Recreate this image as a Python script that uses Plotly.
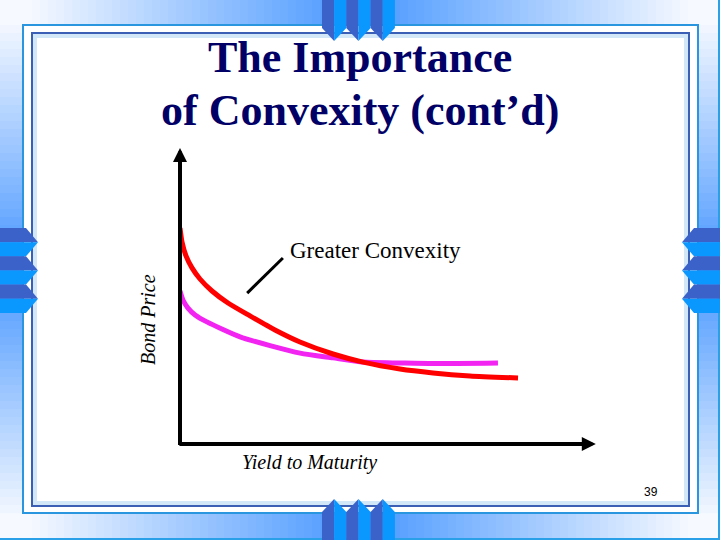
import plotly.graph_objects as go

# ---- data (yield to maturity vs bond price) ----
yield_high_convexity = [0, 0.048, 0.143, 0.286, 0.476, 0.762, 1.143, 1.667, 2.262, 2.857, 3.643, 4.357, 5.238, 6.024, 6.905, 8.048]
price_high_convexity = [72, 67.3, 62.7, 58.7, 55, 51, 47, 42.7, 38, 34, 30, 27.3, 25, 23.7, 22.7, 22]
yield_low_convexity = [0, 0.07, 0.19, 0.36, 0.64, 1.43, 2.86, 3.64, 4.36, 5.24, 6.02, 7.57]
price_low_convexity = [51, 48, 45.3, 43, 40.7, 35.7, 30.3, 28.7, 27.3, 27, 26.8, 27]

title_lines = ["The Importance", "of Convexity (cont\u2019d)"]
x_label = "Yield to Maturity"
y_label = "Bond Price"
callout = "Greater Convexity"
page_no = "39"

W, H = 720, 540
def px(x):
    return x / W
def py(y):
    return 1 - y / H

fig = go.Figure()
fig.add_trace(go.Scatter(x=yield_low_convexity, y=price_low_convexity, mode="lines",
                         line=dict(color="#f224f2", width=5, shape="spline", smoothing=0.6),
                         showlegend=False, hoverinfo="skip"))
fig.add_trace(go.Scatter(x=yield_high_convexity, y=price_high_convexity, mode="lines",
                         line=dict(color="#ff0000", width=5, shape="spline", smoothing=0.6),
                         showlegend=False, hoverinfo="skip"))

shapes = []
BLUE = (70, 150, 255)
PALE = (246, 249, 255)
def lerp(t):
    t = max(0.0, min(1.0, t))
    c = [round(BLUE[i] + (PALE[i] - BLUE[i]) * t) for i in range(3)]
    return "rgb(%d,%d,%d)" % tuple(c)

def rect(x0, y0, x1, y1, color, layer="below"):
    shapes.append(dict(type="rect", xref="paper", yref="paper", x0=px(x0), x1=px(x1),
                       y0=py(y1), y1=py(y0), fillcolor=color, line=dict(width=0), layer=layer))

step = 8
# top & bottom gradient bands
for x in range(0, W, step):
    c = lerp(abs(x + step / 2 - 360) / 330)
    rect(x, 0, x + step, 25, c)
    rect(x, 514, x + step, H, c)
# left & right gradient bands
for y in range(25, 514, step):
    c = lerp(abs(y + step / 2 - 270) / 250)
    rect(0, y, 22, min(y + step, 514), c)
    rect(698, y, W, min(y + step, 514), c)

def poly(points, color, layer="below"):
    path = "M " + " L ".join("%f,%f" % (px(a), py(b)) for a, b in points) + " Z"
    shapes.append(dict(type="path", xref="paper", yref="paper", path=path,
                       fillcolor=color, line=dict(width=0), layer=layer))

DARK = "#3a62c9"
BRIGHT = "#0a98ff"

# frame
shapes.append(dict(type="rect", xref="paper", yref="paper", x0=px(23), x1=px(698), y0=py(513), y1=py(25),
                   line=dict(color="#2a96e0", width=2), fillcolor="white", layer="below"))
shapes.append(dict(type="rect", xref="paper", yref="paper", x0=px(35), x1=px(686), y0=py(503), y1=py(36),
                   line=dict(color="#d2e8f9", width=4), layer="below"))
shapes.append(dict(type="rect", xref="paper", yref="paper", x0=px(32), x1=px(689), y0=py(506), y1=py(33),
                   line=dict(color="#3a5fb4", width=2), layer="below"))
# edge lines
shapes.append(dict(type="line", xref="paper", yref="paper", x0=0, x1=1, y0=py(539), y1=py(539),
                   line=dict(color="#2aa0e8", width=2), layer="below"))
shapes.append(dict(type="line", xref="paper", yref="paper", x0=px(719), x1=px(719), y0=0, y1=1,
                   line=dict(color="#2aa0e8", width=2), layer="below"))

# top & bottom arrows
aw = 24.3
for i in range(3):
    x0 = 322 + aw * i
    xm = x0 + aw / 2
    x1 = x0 + aw
    poly([(x0, 0), (xm, 0), (xm, 41), (x0, 28)], DARK)
    poly([(xm, 0), (x1, 0), (x1, 28), (xm, 41)], BRIGHT)
    poly([(x0, H), (xm, H), (xm, 499), (x0, 512)], DARK)
    poly([(xm, H), (x1, H), (x1, 512), (xm, 499)], BRIGHT)

# side chevrons
ch = 28.3
for i in range(3):
    t = 228 + ch * i
    m = t + ch / 2
    b = t + ch
    poly([(0, t), (26, t), (38, m), (0, m)], DARK)
    poly([(0, m), (38, m), (26, b), (0, b)], BRIGHT)
    poly([(W, t), (694, t), (682, m), (W, m)], DARK)
    poly([(W, m), (682, m), (694, b), (W, b)], BRIGHT)

# callout pointer
shapes.append(dict(type="line", xref="x", yref="y", x0=1.6, y0=50.3, x1=2.45, y1=62,
                   line=dict(color="black", width=3), layer="above"))

annotations = []
# axes with arrows
annotations.append(dict(x=0, y=98.7, ax=0, ay=-0.8, xref="x", yref="y", axref="x", ayref="y",
                        text="", showarrow=True, arrowhead=2, arrowsize=0.7, arrowwidth=4,
                        arrowcolor="black", standoff=0))
annotations.append(dict(x=9.9, y=0, ax=-0.05, ay=0, xref="x", yref="y", axref="x", ayref="y",
                        text="", showarrow=True, arrowhead=2, arrowsize=0.7, arrowwidth=4,
                        arrowcolor="black", standoff=0))

serif = "Liberation Serif, Times New Roman, serif"
annotations.append(dict(x=px(360), y=py(58), xref="paper", yref="paper", text="<b>%s</b>" % title_lines[0],
                        showarrow=False, xanchor="center", yanchor="middle",
                        font=dict(family=serif, size=44, color="#000066")))
annotations.append(dict(x=px(360), y=py(110), xref="paper", yref="paper", text="<b>%s</b>" % title_lines[1],
                        showarrow=False, xanchor="center", yanchor="middle",
                        font=dict(family=serif, size=44, color="#000066")))
annotations.append(dict(x=px(288), y=py(250), xref="paper", yref="paper", text=callout,
                        showarrow=False, xanchor="left", yanchor="middle",
                        font=dict(family=serif, size=23, color="black")))
annotations.append(dict(x=px(148), y=py(320), xref="paper", yref="paper", text="<i>%s</i>" % y_label,
                        showarrow=False, xanchor="center", yanchor="middle", textangle=-90,
                        font=dict(family=serif, size=20, color="black")))
annotations.append(dict(x=px(240), y=py(462), xref="paper", yref="paper", text="<i>%s</i>" % x_label,
                        showarrow=False, xanchor="left", yanchor="middle",
                        font=dict(family=serif, size=20, color="black")))
annotations.append(dict(x=px(651), y=py(492), xref="paper", yref="paper", text=page_no,
                        showarrow=False, xanchor="center", yanchor="middle",
                        font=dict(family="Liberation Sans, Arial, sans-serif", size=12, color="black")))

fig.update_layout(
    width=W, height=H,
    margin=dict(l=0, r=0, t=0, b=0),
    paper_bgcolor="white", plot_bgcolor="rgba(0,0,0,0)",
    xaxis=dict(domain=[px(180), px(600)], range=[0, 10], visible=False, fixedrange=True),
    yaxis=dict(domain=[py(444), py(144)], range=[0, 100], visible=False, fixedrange=True),
    shapes=shapes, annotations=annotations,
)
fig.write_html("out.html", config={"displayModeBar": False},
               post_script="document.body.style.margin='0px';document.body.style.overflow='hidden';")
